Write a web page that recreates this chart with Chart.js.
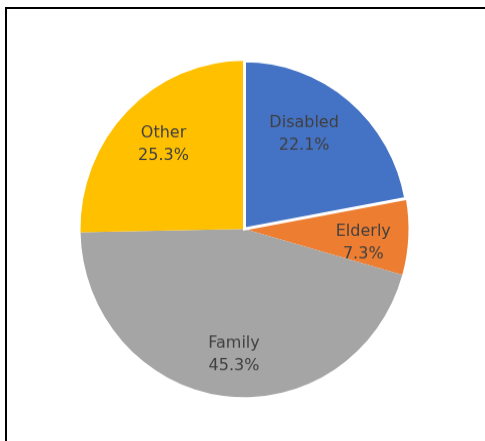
<!DOCTYPE html>
<html>
<head>
<meta charset="utf-8">
<title>Household type</title>
<script src="https://cdn.jsdelivr.net/npm/chart.js@4/dist/chart.umd.min.js"></script>
<style>
    html, body { margin: 0; padding: 0; background: #fff; overflow: hidden; }
    #wrap { position: relative; width: 485px; height: 441px; }
    #frame {
        position: absolute; left: 5px; top: 7px; width: 600px; height: 600px;
        border-top: 2px solid #000; border-left: 2px solid #000;
        pointer-events: none;
    }
    /* drawn at 485x430 and shown a little taller, like the exported sheet chart */
    #pie { position: absolute; left: 0; top: 0; width: 485px !important; height: 441px !important; }
</style>
</head>
<body>
<div id="wrap">
    <canvas id="pie" width="485" height="430"></canvas>
    <div id="frame"></div>
</div>
<script>
// ----------------------------- Data -----------------------------------------
const categories = ["Disabled", "Elderly", "Family", "Other"];
const shares = [22.1, 7.3, 45.3, 25.3];
const sliceColors = ["#4472C4", "#ED7D31", "#A5A5A5", "#FFC000"];

// ----------------------------- Plugins --------------------------------------
// White outline around the first slice, then the category / percent labels.
const sliceLabels = {
    id: "sliceLabels",
    afterDatasetsDraw(chart, args, opts) {
        const ctx = chart.ctx;
        const arcs = chart.getDatasetMeta(0).data;

        // outline for the highlighted slice
        const a = arcs[opts.outlined];
        ctx.save();
        ctx.beginPath();
        ctx.moveTo(a.x, a.y);
        ctx.arc(a.x, a.y, a.outerRadius, a.startAngle, a.endAngle);
        ctx.closePath();
        ctx.strokeStyle = "#fff";
        ctx.lineWidth = 3;
        ctx.lineJoin = "miter";
        ctx.stroke();
        ctx.restore();

        ctx.save();
        ctx.font = opts.font;
        ctx.fillStyle = opts.color;
        ctx.textAlign = "center";
        ctx.textBaseline = "middle";
        arcs.forEach((arc, i) => {
            const mid = (arc.startAngle + arc.endAngle) / 2;
            const r = arc.outerRadius * opts.radial[i];
            const cx = arc.x + Math.cos(mid) * r + opts.shift[i][0];
            const cy = arc.y + Math.sin(mid) * r + opts.shift[i][1];
            const lines = [categories[i], shares[i].toFixed(1) + "%"];
            ctx.fillText(lines[0], cx, cy - opts.lineHeight / 2);
            ctx.fillText(lines[1], cx, cy + opts.lineHeight / 2);
        });
        ctx.restore();
    },
};

// ----------------------------- Chart ----------------------------------------
new Chart(document.getElementById("pie"), {
    type: "pie",
    data: {
        labels: categories,
        datasets: [{
            data: shares,
            backgroundColor: sliceColors,
            borderWidth: 0,
            hoverOffset: 0,
            offset: 0,
        }],
    },
    options: {
        responsive: false,
        animation: false,
        events: [],
        layout: { padding: { left: 80.5, right: 76.5, top: 59.3, bottom: 42.7 } },
        plugins: {
            legend: { display: false },
            tooltip: { enabled: false },
            sliceLabels: {
                outlined: 0,
                font: "16px 'DejaVu Sans'",
                color: "#404040",
                lineHeight: 22,
                radial: [0.673, 0.725, 0.736, 0.709],
                shift: [[-11, -8], [0, 8], [5, 3], [2, -1]],
            },
        },
    },
    plugins: [sliceLabels],
});
</script>
</body>
</html>
